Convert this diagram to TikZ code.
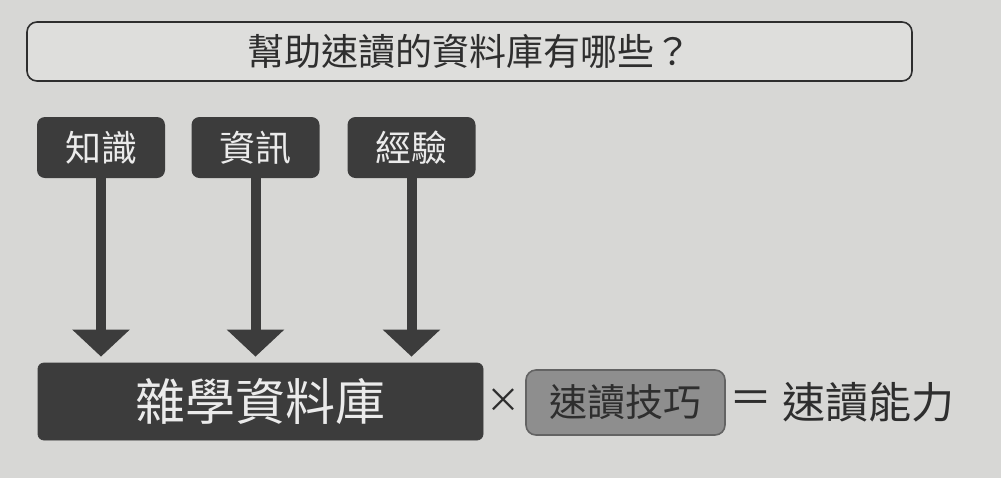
\documentclass[tikz,border=0pt]{standalone}
\usepackage{fontspec}
\setmainfont{Noto Sans CJK TC}
\usetikzlibrary{arrows.meta}
\definecolor{paper}{HTML}{D7D7D5}
\definecolor{ink}{HTML}{2E2E2E}
\definecolor{darkbox}{HTML}{3C3C3C}
\definecolor{lighttxt}{HTML}{EBEBEB}
\definecolor{greybox}{HTML}{8E8E8E}
\definecolor{titlefill}{HTML}{DEDEDC}
\tikzset{
  titlebox/.style={draw=ink, line width=0.8pt, fill=titlefill, rounded corners=5pt,
    minimum width=442.5pt, minimum height=29.5pt, inner sep=0pt,
    text=ink, font=\fontsize{18.5pt}{20pt}\selectfont},
  srcbox/.style={fill=darkbox, rounded corners=4pt, minimum width=64pt, minimum height=30.5pt,
    inner sep=0pt, text=lighttxt, font=\fontsize{18pt}{20pt}\selectfont},
  bigbox/.style={fill=darkbox, draw=darkbox, rounded corners=3pt, minimum width=222.5pt, minimum height=38.5pt,
    inner sep=0pt, text=lighttxt, font=\fontsize{25pt}{27pt}\selectfont},
  skillbox/.style={fill=greybox, draw=darkbox!80, line width=0.8pt, rounded corners=5pt,
    minimum width=99.5pt, minimum height=32.5pt, inner sep=0pt, text=ink,
    font=\fontsize{19pt}{21pt}\selectfont},
  optext/.style={inner sep=0pt, text=ink, font=\fontsize{21.5pt}{23pt}\selectfont},
  downarrow/.style={draw=darkbox, line width=5pt,
    -{Triangle[width=28pt,length=13.5pt]}, shorten >=3pt}
}
\begin{document}
\begin{tikzpicture}[x=0.5pt,y=-0.5pt]
\fill[paper] (0,0) rectangle (1001,478);
\useasboundingbox (0,0) rectangle (1001,478);
\node[titlebox] (title) at (469.5,51.5) {幫助速讀的資料庫有哪些？};
\node[srcbox] (k1) at (101,147.5) {知識};
\node[srcbox] (k2) at (255.5,147.5) {資訊};
\node[srcbox] (k3) at (411.5,147.5) {經驗};
\node[bigbox] (db) at (260.5,401.5) {雜學資料庫};
\node[optext, font=\fontsize{17pt}{19pt}\selectfont] (times) at (503.5,401) {×};
\node[skillbox] (skill) at (625.5,402.5) {速讀技巧};
\node[optext] (eq) at (751,402) {＝};
\node[optext] (res) at (868,402) {速讀能力};
\draw[downarrow] (k1.south) -- (k1.south |- db.north);
\draw[downarrow] (k2.south) -- (k2.south |- db.north);
\draw[downarrow] (k3.south) -- (k3.south |- db.north);
\end{tikzpicture}
\end{document}
